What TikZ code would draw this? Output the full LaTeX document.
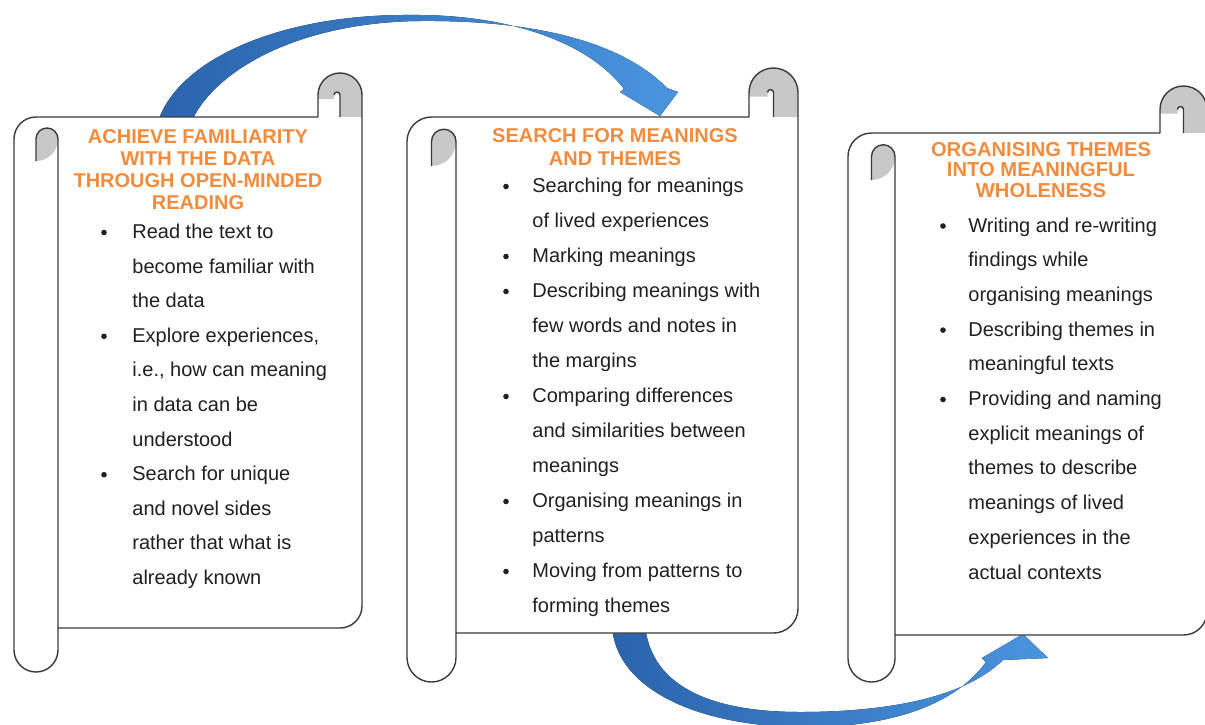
\documentclass[tikz,border=0pt]{standalone}
\usepackage{fontspec}
\setmainfont{Liberation Sans}
\definecolor{sline}{HTML}{3A3A3A}
\definecolor{sgray}{HTML}{C8C8C8}
\definecolor{ttlc}{HTML}{F28C3C}
\definecolor{bodytxt}{HTML}{202020}
\definecolor{adark}{HTML}{2A64AC}
\definecolor{alight}{HTML}{4A94DE}
\tikzset{
  scrollline/.style={draw=sline, line width=0.7pt, line join=round},
  ttl/.style={text=ttlc, align=center, inner sep=0pt},
  body/.style={text=bodytxt, font=\fontsize{10}{12}\selectfont, inner sep=0pt, anchor=base west},
  bul/.style={circle, fill=bodytxt, inner sep=0pt, minimum size=2.8pt},
  arrowfill/.style={left color=adark, right color=alight}
}
\newcommand\drawscroll[5]{%
  \pgfmathsetmacro\cH{#5/2}%
  \pgfmathsetmacro\xA{#1}\pgfmathsetmacro\xB{#1+#5/2}\pgfmathsetmacro\xC{#1+#5}%
  \pgfmathsetmacro\xG{#1+0.75*#5}%
  \pgfmathsetmacro\xD{#3-#5}\pgfmathsetmacro\xE{#3-#5/2}\pgfmathsetmacro\xF{#3}%
  \pgfmathsetmacro\yB{-(#2+#5/2)}\pgfmathsetmacro\yC{-(#2+#5)}%
  \pgfmathsetmacro\yD{-(#2+1.5*#5)}\pgfmathsetmacro\yE{-(#2+2*#5)}%
  \pgfmathsetmacro\yF{-(#4-1.5*#5)}\pgfmathsetmacro\yG{-(#4-#5)}\pgfmathsetmacro\yH{-(#4-#5/2)}%
  \pgfmathsetmacro\yN{-(#2+#5/2+4)}%
  \fill[white] (\xA,\yD) arc[start angle=180,end angle=90,radius=\cH] -- (\xD,\yC) -- (\xD,\yB)
     arc[start angle=180,end angle=0,radius=\cH] -- (\xF,\yF) arc[start angle=0,end angle=-90,radius=\cH]
     -- (\xC,\yG) -- (\xC,\yH) arc[start angle=0,end angle=-180,radius=\cH] -- cycle;
  \fill[sgray] (\xD,\yN) -- (\xD,\yB) arc[start angle=180,end angle=0,radius=\cH] -- (\xF,\yC) -- (\xE,\yC) -- (\xE,\yB)
     arc[start angle=0,end angle=180,radius=3] -- ++(0,-4) -- cycle;
  \fill[sgray] (\xB,\yE) -- (\xB,\yD) arc[start angle=180,end angle=0,radius=#5/4]
     arc[start angle=0,end angle=-90,radius=\cH] -- cycle;
  \draw[scrollline] (\xA,\yD) arc[start angle=180,end angle=90,radius=\cH] -- (\xD,\yC) -- (\xD,\yB)
     arc[start angle=180,end angle=0,radius=\cH] -- (\xF,\yF) arc[start angle=0,end angle=-90,radius=\cH]
     -- (\xC,\yG) -- (\xC,\yH) arc[start angle=0,end angle=-180,radius=\cH] -- cycle;
  \draw[scrollline] (\xE,\yC) -- (\xE,\yB) arc[start angle=0,end angle=180,radius=3];
  \draw[scrollline] (\xB,\yE) -- (\xB,\yD) arc[start angle=180,end angle=0,radius=#5/4] -- (\xC,\yG);
}
\begin{document}
\begin{tikzpicture}[x=0.5pt,y=0.5pt]
\useasboundingbox (0,0) rectangle (1205,-724);
\fill[white] (0,0) rectangle (1205,-724);

% arrows (behind the scrolls)
\fill[arrowfill] (157,-125) .. controls (175,-60) and (280,-14) .. (410,-15)
   .. controls (500,-14) and (585,-38) .. (624,-89) -- (620,-92) -- (660,-116) -- (678,-92) -- (667,-88)
   .. controls (620,-40) and (530,-20) .. (420,-21) .. controls (300,-22) and (212,-70) .. (190,-125) -- cycle;
\fill[arrowfill] (612,-625) .. controls (615,-690) and (700,-726) .. (800,-727)
   .. controls (890,-728) and (955,-705) .. (986,-662) -- (982,-658) -- (1023,-634) -- (1048,-658) -- (1003,-660)
   .. controls (962,-700) and (880,-712) .. (800,-712) .. controls (700,-712) and (650,-680) .. (645,-625) -- cycle;

% scrolls
\drawscroll{14}{73}{362}{672}{44}
\drawscroll{407}{68}{798}{682}{49}
\drawscroll{848}{86}{1207}{682}{47}

% titles
\node[ttl, font=\fontsize{10}{11}\selectfont\bfseries] (t1) at (198,-170)
  {ACHIEVE FAMILIARITY\\WITH THE DATA\\THROUGH OPEN-MINDED\\READING};
\node[ttl, font=\fontsize{10}{11.5}\selectfont\bfseries] (t2) at (615,-147)
  {SEARCH FOR MEANINGS\\AND THEMES};
\node[ttl, font=\fontsize{10.1}{10.25}\selectfont\bfseries] (t3) at (1041,-170)
  {ORGANISING THEMES\\INTO MEANINGFUL\\WHOLENESS};

% scroll 1 body
\foreach \tx [count=\i] in {Read the text to, become familiar with, the data, {Explore experiences,},
  {i.e., how can meaning}, in data can be, understood, Search for unique, and novel sides,
  rather that what is, already known}{
  \pgfmathsetmacro\yy{-(232.5+(\i-1)*34.6+6)}
  \node[body] (a\i) at (132,\yy) {\tx};
}
\foreach \i in {1,4,8}{
  \pgfmathsetmacro\yy{-(232.5+(\i-1)*34.6)}
  \node[bul] (ab\i) at (104,\yy) {};
}
% scroll 2 body
\foreach \tx [count=\i] in {Searching for meanings, of lived experiences, Marking meanings,
  Describing meanings with, few words and notes in, the margins, Comparing differences,
  and similarities between, meanings, Organising meanings in, patterns,
  Moving from patterns to, forming themes}{
  \pgfmathsetmacro\yy{-(186.5+(\i-1)*35+6)}
  \node[body] (b\i) at (532,\yy) {\tx};
}
\foreach \i in {1,3,4,7,10,12}{
  \pgfmathsetmacro\yy{-(186.5+(\i-1)*35)}
  \node[bul] (bb\i) at (506,\yy) {};
}
% scroll 3 body
\foreach \tx [count=\i] in {Writing and re-writing, findings while, organising meanings,
  Describing themes in, meaningful texts, Providing and naming, explicit meanings of,
  themes to describe, meanings of lived, experiences in the, actual contexts}{
  \pgfmathsetmacro\yy{-(226+(\i-1)*34.7+6)}
  \node[body] (c\i) at (968,\yy) {\tx};
}
\foreach \i in {1,4,6}{
  \pgfmathsetmacro\yy{-(226+(\i-1)*34.7)}
  \node[bul] (cb\i) at (943,\yy) {};
}
\end{tikzpicture}
\end{document}
